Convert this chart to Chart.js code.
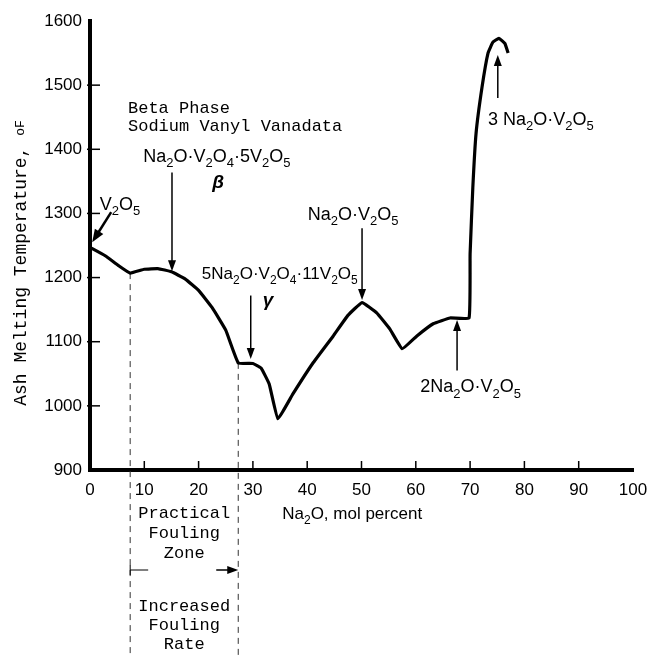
<!DOCTYPE html>
<html lang="en">
<head>
<meta charset="UTF-8">
<title>Ash Melting Temperature vs Na2O</title>
<script src="https://cdn.jsdelivr.net/npm/chart.js"></script>
<style>
  html, body { margin: 0; padding: 0; background: #fff; }
  #wrap { width: 650px; height: 655px; }
</style>
</head>
<body>
<div id="wrap"><canvas id="meltChart"></canvas></div>
<script>
// Na2O content (mol %) and ash melting temperature (deg F) along the liquidus
const na2oPct = [0, 2.8, 5.2, 7.4, 10, 12.5, 15, 17.5, 20, 22.5, 25, 27.3,
  30, 31.5, 33, 34.6, 37.4, 41, 44.8, 47.5, 50.1, 52.8, 55.2, 57.5, 60.2,
  63.2, 66.3, 69.8, 70, 70.5, 71.1, 72.2, 73.3, 74.2, 75.3, 76.4, 77];
const meltTempF = [1247, 1234, 1219, 1207, 1213, 1214, 1209, 1198, 1180, 1153, 1118, 1067,
  1066, 1059, 1034, 980, 1019, 1066, 1109, 1141, 1161, 1145, 1120, 1089, 1109,
  1128, 1137, 1137, 1237, 1340, 1425, 1497, 1550, 1567, 1573, 1565, 1550];

const xTicks = [0, 10, 20, 30, 40, 50, 60, 70, 80, 90, 100];
const yTicks = [900, 1000, 1100, 1200, 1300, 1400, 1500, 1600];

// practical fouling zone boundaries (mol % Na2O)
const foulingZone = [7.4, 27.3];

// compound labels, {n} = subscript
const formulaNotes = [
  { text: 'V{2}O{5}', x: 1.8, y: 1316 },
  { text: 'Na{2}O·V{2}O{4}·5V{2}O{5}', x: 9.8, y: 1391 },
  { text: '5Na{2}O·V{2}O{4}·11V{2}O{5}', x: 20.6, y: 1208, size: 17 },
  { text: 'Na{2}O·V{2}O{5}', x: 40.1, y: 1300 },
  { text: '2Na{2}O·V{2}O{5}', x: 60.8, y: 1031 },
  { text: '3 Na{2}O·V{2}O{5}', x: 73.3, y: 1448 }
];
const greekNotes = [
  { text: 'β', x: 23.6, y: 1348 },
  { text: 'γ', x: 32.8, y: 1164 }
];
const pointerArrows = [
  { from: [3.9, 1302], to: [0.4, 1255], heavy: true },
  { from: [15.1, 1364], to: [15.1, 1210] },
  { from: [29.6, 1172], to: [29.6, 1073] },
  { from: [50.1, 1277], to: [50.1, 1165] },
  { from: [67.6, 1055], to: [67.6, 1134] },
  { from: [75.1, 1480], to: [75.1, 1547] }
];

const MONO = '"Liberation Mono", "DejaVu Sans Mono", monospace';
const SANS = '"Liberation Sans", Arial, sans-serif';

function drawChem(ctx, str, x, y, size, align) {
  const parts = str.split(/\{(\d+)\}/);
  const subSize = Math.round(size * 0.72);
  let total = 0;
  parts.forEach((p, i) => {
    ctx.font = (i % 2 ? subSize : size) + 'px ' + SANS;
    total += ctx.measureText(p).width;
  });
  let cx = align === 'center' ? x - total / 2 : x;
  ctx.textAlign = 'left';
  ctx.textBaseline = 'alphabetic';
  const base = y + size * 0.36;
  parts.forEach((p, i) => {
    const sub = i % 2 === 1;
    ctx.font = (sub ? subSize : size) + 'px ' + SANS;
    ctx.fillText(p, cx, sub ? base + size * 0.3 : base);
    cx += ctx.measureText(p).width;
  });
}

function drawArrow(ctx, x1, y1, x2, y2, heavy) {
  const ang = Math.atan2(y2 - y1, x2 - x1);
  const len = heavy ? 13 : 11, half = heavy ? 5 : 4;
  ctx.lineWidth = heavy ? 2.5 : 1.5;
  ctx.beginPath();
  ctx.moveTo(x1, y1);
  ctx.lineTo(x2 - Math.cos(ang) * len * 0.8, y2 - Math.sin(ang) * len * 0.8);
  ctx.stroke();
  ctx.beginPath();
  ctx.moveTo(x2, y2);
  ctx.lineTo(x2 - Math.cos(ang) * len + Math.sin(ang) * half, y2 - Math.sin(ang) * len - Math.cos(ang) * half);
  ctx.lineTo(x2 - Math.cos(ang) * len - Math.sin(ang) * half, y2 - Math.sin(ang) * len + Math.cos(ang) * half);
  ctx.closePath();
  ctx.fill();
}

const sketchNotes = {
  id: 'sketchNotes',
  beforeDatasetsDraw(chart) {
    const { ctx } = chart;
    const sx = chart.scales.x, sy = chart.scales.y;
    ctx.save();
    ctx.strokeStyle = '#333';
    ctx.lineWidth = 1;
    ctx.setLineDash([6, 5]);
    foulingZone.forEach(v => {
      const t = meltTempF[na2oPct.indexOf(v)];
      const x = sx.getPixelForValue(v);
      ctx.beginPath();
      ctx.moveTo(x, sy.getPixelForValue(t));
      ctx.lineTo(x, chart.height);
      ctx.stroke();
    });
    ctx.restore();
  },
  afterDraw(chart) {
    const { ctx, chartArea } = chart;
    const sx = chart.scales.x, sy = chart.scales.y;
    const px = v => sx.getPixelForValue(v);
    const py = v => sy.getPixelForValue(v);
    ctx.save();
    ctx.fillStyle = '#000';
    ctx.strokeStyle = '#000';

    // inward tick marks
    ctx.lineWidth = 1.5;
    xTicks.slice(1, -1).forEach(v => {
      ctx.beginPath();
      ctx.moveTo(px(v), chartArea.bottom);
      ctx.lineTo(px(v), chartArea.bottom - 9);
      ctx.stroke();
    });
    yTicks.slice(1, -1).forEach(v => {
      ctx.beginPath();
      ctx.moveTo(chartArea.left - 3, py(v));
      ctx.lineTo(chartArea.left + 10, py(v));
      ctx.stroke();
    });

    // arrows and compound labels
    pointerArrows.forEach(a => drawArrow(ctx, px(a.from[0]), py(a.from[1]), px(a.to[0]), py(a.to[1]), a.heavy));
    formulaNotes.forEach(n => drawChem(ctx, n.text, px(n.x), py(n.y), n.size || 18, 'left'));
    ctx.textAlign = 'center';
    ctx.textBaseline = 'middle';
    ctx.font = 'italic bold 19px ' + SANS;
    greekNotes.forEach(n => ctx.fillText(n.text, px(n.x), py(n.y)));

    ctx.font = '17px ' + MONO;
    ctx.textAlign = 'left';
    ctx.fillText('Beta Phase', px(7.0), py(1464));
    ctx.fillText('Sodium Vanyl Vanadata', px(7.0), py(1436));

    // fouling zone notes under the axis
    const zl = px(foulingZone[0]), zr = px(foulingZone[1]);
    const zc = (zl + zr) / 2, b = chartArea.bottom;
    ctx.textAlign = 'center';
    ['Practical', 'Fouling', 'Zone'].forEach((s, i) => ctx.fillText(s, zc, b + 43 + i * 20));
    ['Increased', 'Fouling', 'Rate'].forEach((s, i) => ctx.fillText(s, zc, b + 136 + i * 19));
    ctx.lineWidth = 1;
    ctx.beginPath();
    ctx.moveTo(zl, b + 95); ctx.lineTo(zl, b + 105);
    ctx.moveTo(zl, b + 100); ctx.lineTo(zl + 18, b + 100);
    ctx.stroke();
    drawArrow(ctx, zr - 22, b + 100, zr, b + 100, false);

    // axis titles
    drawChem(ctx, 'Na{2}O, mol percent', px(35.4), b + 43, 17, 'left');
    ctx.save();
    ctx.translate(21, 263);
    ctx.rotate(-Math.PI / 2);
    ctx.font = '18px ' + MONO;
    ctx.textAlign = 'left';
    ctx.textBaseline = 'middle';
    const main = 'Ash Melting Temperature, ';
    const w = ctx.measureText(main).width;
    ctx.font = '13px ' + MONO;
    const w2 = ctx.measureText('oF').width;
    ctx.font = '18px ' + MONO;
    ctx.fillText(main, -(w + w2) / 2, 0);
    ctx.font = '13px ' + MONO;
    ctx.fillText('oF', -(w + w2) / 2 + w, 0);
    ctx.restore();

    ctx.restore();
  }
};

const axisTicks = {
  color: '#000',
  font: { family: 'Liberation Sans', size: 17 },
  autoSkip: false,
  maxRotation: 0,
  callback: v => String(v)
};

new Chart(document.getElementById('meltChart'), {
  type: 'line',
  data: {
    datasets: [{
      data: na2oPct.map((x, i) => ({ x, y: meltTempF[i] })),
      borderColor: '#000',
      borderWidth: 3.2,
      pointRadius: 0,
      tension: 0.1,
      fill: false
    }]
  },
  options: {
    responsive: true,
    maintainAspectRatio: false,
    animation: false,
    devicePixelRatio: 1,
    layout: { padding: { top: 21, right: 17, left: 0, bottom: 0 } },
    plugins: { legend: { display: false }, tooltip: { enabled: false } },
    scales: {
      x: {
        type: 'linear', min: 0, max: 100,
        afterBuildTicks: s => { s.ticks = xTicks.map(v => ({ value: v })); },
        afterFit: s => { s.height = 185; s.paddingLeft = 0; s.paddingRight = 0; },
        grid: { display: false, drawTicks: false },
        border: { display: true, color: '#000', width: 4 },
        ticks: Object.assign({ padding: 10 }, axisTicks)
      },
      y: {
        type: 'linear', min: 900, max: 1600,
        afterBuildTicks: s => { s.ticks = yTicks.map(v => ({ value: v })); },
        afterFit: s => { s.width = 90; s.paddingTop = 0; s.paddingBottom = 0; },
        grid: { display: false, drawTicks: false },
        border: { display: true, color: '#000', width: 4 },
        ticks: Object.assign({ padding: 8 }, axisTicks)
      }
    }
  },
  plugins: [sketchNotes]
});
</script>
</body>
</html>
